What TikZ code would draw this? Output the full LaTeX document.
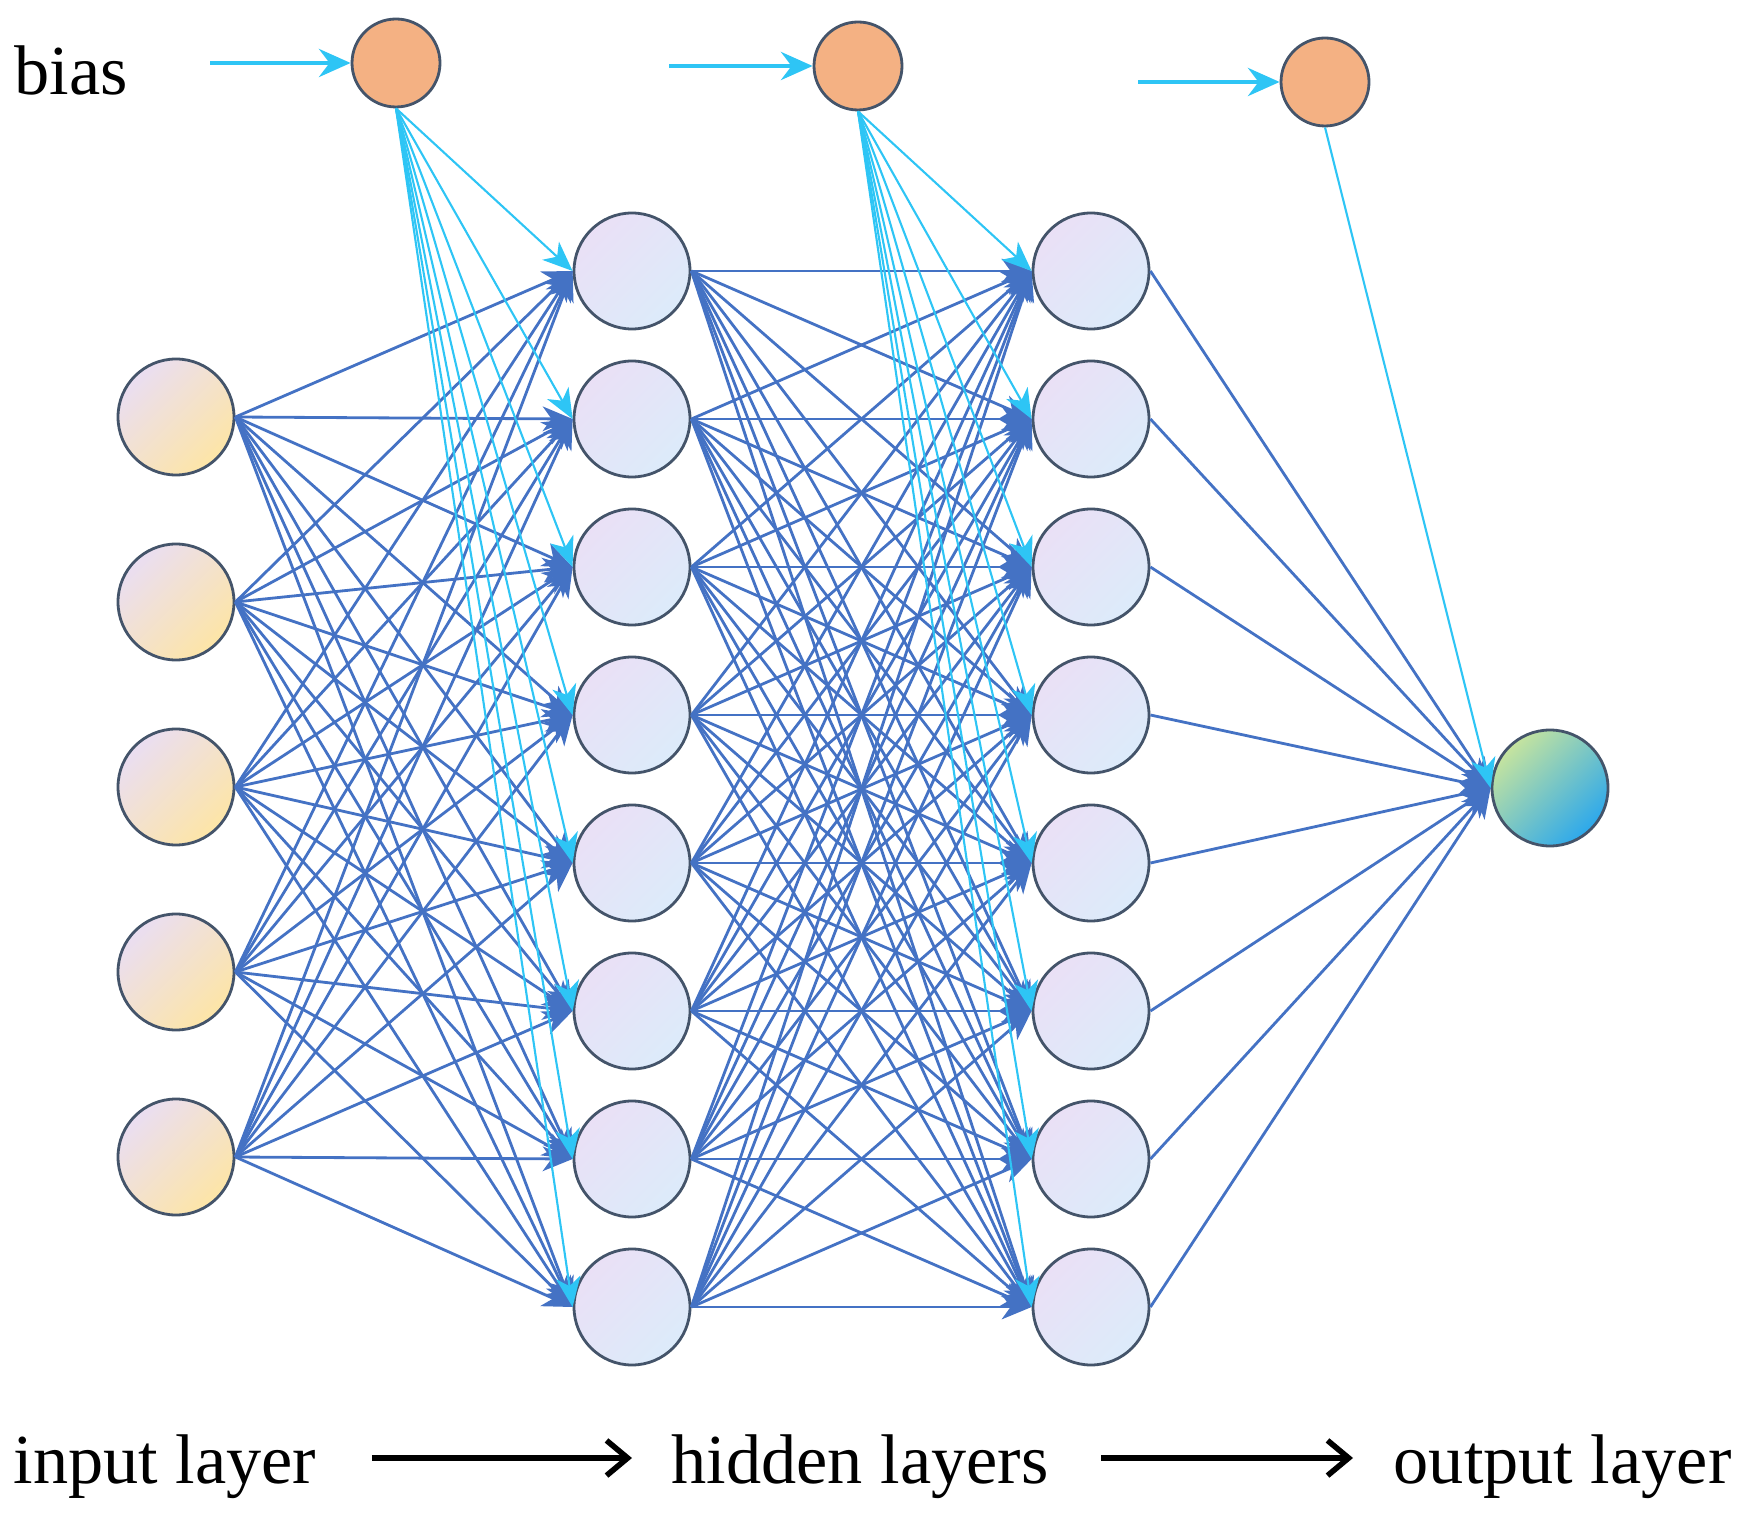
\documentclass[tikz,border=0pt]{standalone}
\usepackage{fontspec}
\setmainfont{Liberation Serif}
\usepackage{tikz}
\usetikzlibrary{
	arrows.meta,
	positioning,
	}

\definecolor{wireblue}{RGB}{68,114,196}
\definecolor{biascyan}{RGB}{46,197,245}
\definecolor{biasfill}{RGB}{244,177,131}
\definecolor{rimgrey}{RGB}{68,84,106}
\definecolor{inA}{RGB}{234,222,242}
\definecolor{inB}{RGB}{253,229,166}
\definecolor{hidA}{RGB}{234,224,246}
\definecolor{hidB}{RGB}{220,235,250}
\definecolor{outA}{RGB}{198,228,158}
\definecolor{outB}{RGB}{44,168,236}

\tikzset{
	neuron/.style={draw=rimgrey, circle, line width=0.8pt, minimum size=1.16cm, inner sep=0pt},
	innode/.style={neuron, top color=inA, bottom color=inB, shading angle=45},
	hidnode/.style={neuron, top color=hidA, bottom color=hidB, shading angle=45},
	outnode/.style={neuron, top color=outA, bottom color=outB, shading angle=45},
	biasnode/.style={neuron, fill=biasfill, minimum size=0.88cm},
	wire/.style={draw=wireblue, line width=0.8pt, -{Stealth[length=8.5pt, width=7pt, inset=2.5pt]}},
	bwire/.style={draw=biascyan, line width=0.6pt, -{Stealth[length=8.5pt, width=7pt, inset=2.5pt]}},
	bfeed/.style={draw=biascyan, line width=1.1pt, -{Stealth[length=9pt, width=8pt, inset=3pt]}},
	flow/.style={draw=black, line width=1.6pt, -{Straight Barb[length=6pt, width=10pt, line width=1.6pt]}},
	lbl/.style={anchor=base west, inner sep=0pt, font=\fontsize{20}{24}\selectfont},
}

\begin{document}
\begin{tikzpicture}
	\useasboundingbox (0,0) rectangle (17.53,15.12);
	% layers
	\foreach \i in {1,...,5}
		\node[innode] (in\i) at (1.76,{12.80-1.85*\i}) {};
	\foreach \i in {1,...,8} {
		\node[hidnode] (ha\i) at (6.32,{13.89-1.48*\i}) {};
		\node[hidnode] (hb\i) at (10.91,{13.89-1.48*\i}) {};
	}
	\node[outnode] (out) at (15.50,7.24) {};
	% bias
	\node[biasnode] (b1) at (3.96,14.49) {};
	\node[biasnode] (b2) at (8.58,14.46) {};
	\node[biasnode] (b3) at (13.25,14.30) {};
	\coordinate (bi1) at (2.10,14.49);
	\coordinate (bi2) at (6.69,14.46);
	\coordinate (bi3) at (11.38,14.30);
	\node[lbl] (bias) at (0.14,14.17) {bias};
	% weights
	\foreach \i in {1,...,5}
		\foreach \j in {1,...,8}
			\draw[wire] (in\i.east) -- (ha\j.west);
	\foreach \i in {1,...,8}
		\foreach \j in {1,...,8}
			\draw[wire] (ha\i.east) -- (hb\j.west);
	\foreach \i in {1,...,8}
		\draw[wire] (hb\i.east) -- (out.west);
	\foreach \j in {1,...,8} {
		\draw[bwire] (b1.south) -- (ha\j.west);
		\draw[bwire] (b2.south) -- (hb\j.west);
	}
	\draw[bwire] (b3.south) -- (out.west);
	\draw[bfeed] (bi1) -- (b1);
	\draw[bfeed] (bi2) -- (b2);
	\draw[bfeed] (bi3) -- (b3);
	% captions
	\node[lbl] (inl) at (0.13,0.29) {input layer};
	\node[lbl] (hidl) at (6.71,0.29) {hidden layers};
	\node[lbl] (outl) at (13.93,0.29) {output layer};
	\draw[flow] ([xshift=5.5mm, yshift=2.5mm]inl.base east) -- ([xshift=-3.9mm, yshift=2.5mm]hidl.base west);
	\draw[flow] ([xshift=5.2mm, yshift=2.5mm]hidl.base east) -- ([xshift=-4.0mm, yshift=2.5mm]outl.base west);
\end{tikzpicture}
\end{document}
